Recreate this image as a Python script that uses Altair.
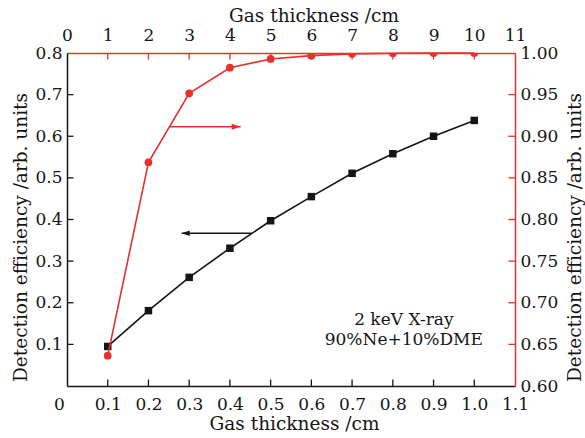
import altair as alt
import pandas as pd

# Gas thickness (cm) on the bottom axis, same points in mm on the top axis
thickness_cm = [0.1, 0.2, 0.3, 0.4, 0.5, 0.6, 0.7, 0.8, 0.9, 1.0]
thickness_mm = [1, 2, 3, 4, 5, 6, 7, 8, 9, 10]

# Detection efficiency, left axis (black squares)
eff_left = [0.095, 0.181, 0.261, 0.331, 0.397, 0.455, 0.511, 0.558, 0.600, 0.638]
# Detection efficiency, right axis (red circles)
eff_right = [0.6364, 0.8687, 0.9516, 0.9823, 0.9928, 0.9968, 0.9990, 0.9997, 0.9999, 1.0]

bottom_ticks = [0, 0.1, 0.2, 0.3, 0.4, 0.5, 0.6, 0.7, 0.8, 0.9, 1.0, 1.1]
top_ticks = [0, 1, 2, 3, 4, 5, 6, 7, 8, 9, 10, 11]
left_ticks = [0.1, 0.2, 0.3, 0.4, 0.5, 0.6, 0.7, 0.8]
right_ticks = [0.60, 0.65, 0.70, 0.75, 0.80, 0.85, 0.90, 0.95, 1.00]

# Annotation arrows: (start, tip) in data units
black_arrow_x = [0.4535, 0.2816]
black_arrow_y = [0.3668, 0.3668]
red_arrow_x = [2.529, 4.265]
red_arrow_y = [0.9115, 0.9115]

note_lines = ["2 keV X-ray", "90%Ne+10%DME"]
note_x = [0.827, 0.827]
note_y = [0.1586, 0.1105]

RED = "#e8312c"
INK = "#151515"
FONT = "DejaVu Serif"
W, H = 448, 333
TICK_LEN = 6.5

black_df = pd.DataFrame({"t": thickness_cm, "e": eff_left})
red_df = pd.DataFrame({"t": thickness_mm, "e": eff_right})
black_arrow = pd.DataFrame({"t": black_arrow_x, "e": black_arrow_y, "o": [0, 1]})
red_arrow = pd.DataFrame({"t": red_arrow_x, "e": red_arrow_y, "o": [0, 1]})
notes = pd.DataFrame({"t": note_x, "e": note_y, "txt": note_lines})

# Inward tick marks sit on the plot frame at each labelled value
bottom_tick_df = pd.DataFrame({"t": bottom_ticks[1:-1], "e": 0.0})
left_tick_df = pd.DataFrame({"t": 0.0, "e": left_ticks[:-1]})
top_tick_df = pd.DataFrame({"t": top_ticks[1:-1], "e": 1.0})
right_tick_df = pd.DataFrame({"t": 11.0, "e": right_ticks[1:-1]})

common = dict(labelFont=FONT, titleFont=FONT, labelFontSize=17, titleFontSize=18.5,
              titleFontWeight="normal", ticks=False, tickSize=0, labelFlush=False,
              grid=False, titleAlign="center", titleBaseline="middle")

bottom_axis = alt.Axis(
    orient="bottom", values=bottom_ticks,
    labelExpr="datum.value == 0 ? '0' : format(datum.value, '.1f')",
    labelOffset={"condition": {"test": "datum.value == 0", "value": -8}, "value": 0},
    title="Gas thickness /cm", titleX=227, titleY=37, titleAngle=0,
    domainColor=INK, domainWidth=1.5, labelColor=INK, titleColor=INK,
    labelPadding=10, **common)
left_axis = alt.Axis(
    orient="left", values=left_ticks, format=".1f",
    title="Detection efficiency /arb. units", titleX=-47, titleY=184, titleAngle=270,
    domainColor=INK, domainWidth=1.5, labelColor=INK, titleColor=INK,
    labelPadding=5, **common)
top_axis = alt.Axis(
    orient="top", values=top_ticks, format="d",
    title="Gas thickness /cm", titleX=246.5, titleY=-38, titleAngle=0,
    domainColor=RED, domainWidth=1.5, labelColor=INK, titleColor=INK,
    labelPadding=9, **common)
right_axis = alt.Axis(
    orient="right", values=right_ticks, format=".2f",
    title="Detection efficiency /arb. units", titleX=59, titleY=184, titleAngle=270,
    domainColor=RED, domainWidth=1.5, labelColor=INK, titleColor=INK,
    labelPadding=5, **common)

xb = alt.X("t:Q", scale=alt.Scale(domain=[0, 1.1], nice=False), axis=bottom_axis)
yl = alt.Y("e:Q", scale=alt.Scale(domain=[0, 0.8], nice=False, zero=False), axis=left_axis)
xt = alt.X("t:Q", scale=alt.Scale(domain=[0, 11], nice=False), axis=top_axis)
yr = alt.Y("e:Q", scale=alt.Scale(domain=[0.6, 1.0], nice=False, zero=False), axis=right_axis)

# Left-axis series with its arrow, the note text and the black frame ticks
black_layer = alt.layer(
    alt.Chart(bottom_tick_df).mark_tick(orient="vertical", size=TICK_LEN, thickness=1.3,
                                        yOffset=-TICK_LEN / 2, color=INK, opacity=1
                                        ).encode(x=xb, y=yl),
    alt.Chart(left_tick_df).mark_tick(orient="horizontal", size=TICK_LEN, thickness=1.3,
                                      xOffset=TICK_LEN / 2, color=INK, opacity=1
                                      ).encode(x=xb, y=yl),
    alt.Chart(black_df).mark_line(color=INK, strokeWidth=1.6).encode(x=xb, y=yl),
    alt.Chart(black_df).mark_square(color=INK, size=56, opacity=1).encode(x=xb, y=yl),
    alt.Chart(black_arrow).mark_line(color=INK, strokeWidth=1.4).encode(x=xb, y=yl, order="o:Q"),
    alt.Chart(black_arrow.iloc[[1]]).mark_point(
        shape="M0,0L1,-0.35L1,0.35Z", filled=True, color=INK, size=256, opacity=1
    ).encode(x=xb, y=yl),
    alt.Chart(notes).mark_text(font=FONT, fontSize=17, color=INK, align="center",
                               baseline="middle").encode(x=xb, y=yl, text="txt:N"),
)

# Right-axis series (mm on the top axis) with its arrow and the red frame ticks
red_layer = alt.layer(
    alt.Chart(top_tick_df).mark_tick(orient="vertical", size=TICK_LEN, thickness=1.3,
                                     yOffset=TICK_LEN / 2, color=RED, opacity=1
                                     ).encode(x=xt, y=yr),
    alt.Chart(right_tick_df).mark_tick(orient="horizontal", size=TICK_LEN, thickness=1.3,
                                       xOffset=-TICK_LEN / 2, color=RED, opacity=1
                                       ).encode(x=xt, y=yr),
    alt.Chart(red_df).mark_line(color=RED, strokeWidth=1.6).encode(x=xt, y=yr),
    alt.Chart(red_df).mark_circle(color=RED, size=60, opacity=1, clip=True).encode(x=xt, y=yr),
    alt.Chart(red_arrow).mark_line(color=RED, strokeWidth=1.4).encode(x=xt, y=yr, order="o:Q"),
    alt.Chart(red_arrow.iloc[[1]]).mark_point(
        shape="M0,0L-1,-0.33L-1,0.33Z", filled=True, color=RED, size=324, opacity=1
    ).encode(x=xt, y=yr),
)

chart = alt.layer(black_layer, red_layer).resolve_scale(
    x="independent", y="independent"
).properties(
    width=W, height=H,
    padding={"left": 67, "top": 53, "right": 70, "bottom": 52},
    autosize=alt.AutoSizeParams(type="none"),
    background="white",
).configure_view(stroke=None)

chart.save("out.html", embed_options={"renderer": "svg", "actions": False})
